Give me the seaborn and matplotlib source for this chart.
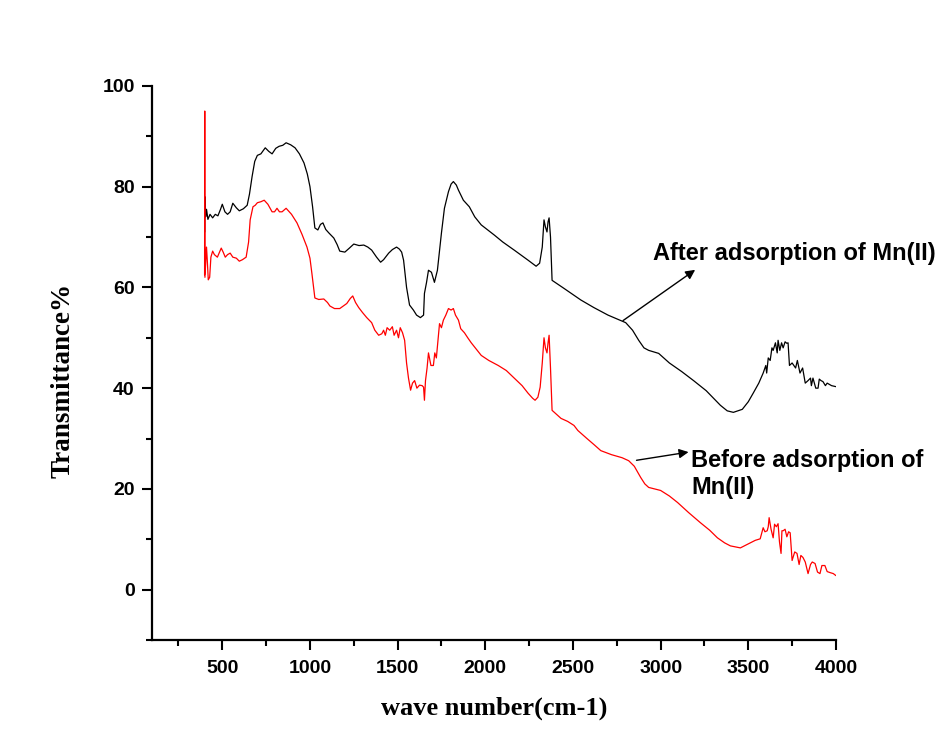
import matplotlib
matplotlib.use("Agg")
import matplotlib.pyplot as plt
import seaborn as sns
import pandas as pd
from matplotlib.ticker import MultipleLocator

# ---- data ----
after_x = [400, 401, 405, 410, 418, 430, 445, 460, 475, 490, 500, 515, 530, 545, 560, 580, 597, 620, 642, 655,
           670, 685, 700, 720, 745, 765, 784, 805, 824, 845, 864, 890, 915, 940, 966, 985, 1000, 1015, 1028, 1045,
           1060, 1074, 1090, 1108, 1136, 1155, 1170, 1199, 1225, 1250, 1280, 1307, 1330, 1352, 1380, 1403, 1420,
           1449, 1470, 1494, 1510, 1523, 1534, 1551, 1568, 1590, 1608, 1630, 1648, 1653, 1665, 1676, 1693, 1710,
           1727, 1750, 1767, 1790, 1805, 1818, 1835, 1847, 1875, 1909, 1940, 1977, 2051, 2100, 2165, 2244, 2290,
           2310, 2325, 2335, 2343, 2352, 2358, 2364, 2372, 2381, 2449, 2545, 2619, 2700, 2801, 2840, 2875, 2905,
           2932, 2989, 3050, 3120, 3188, 3260, 3341, 3380, 3415, 3466, 3500, 3528, 3560, 3585, 3600, 3605, 3614,
           3625, 3635, 3642, 3655, 3665, 3670, 3680, 3690, 3699, 3710, 3720, 3727, 3735, 3750, 3770, 3780, 3795,
           3810, 3825, 3841, 3855, 3860, 3869, 3885, 3898, 3905, 3915, 3926, 3940, 3950, 3975, 4000]
after_y = [71.0, 78.0, 74.0, 75.5, 73.5, 74.5, 73.8, 74.5, 74.2, 75.5, 76.5, 75.0, 74.5, 75.0, 76.7, 75.8, 75.2,
           75.6, 76.3, 78.5, 82.0, 85.0, 86.2, 86.5, 87.7, 87.0, 86.5, 87.6, 88.0, 88.2, 88.7, 88.3, 87.7, 86.5,
           84.7, 82.5, 80.0, 76.0, 71.8, 71.4, 72.5, 72.8, 71.5, 70.8, 69.8, 68.5, 67.2, 67.0, 67.8, 68.6, 68.3,
           68.4, 68.0, 67.4, 66.0, 65.0, 65.5, 66.8, 67.5, 68.0, 67.6, 67.0, 65.4, 60.0, 56.5, 55.5, 54.5, 54.0,
           54.5, 58.8, 61.0, 63.4, 63.0, 61.0, 63.4, 70.8, 75.7, 79.0, 80.5, 81.0, 80.3, 79.3, 77.3, 76.0, 74.0,
           72.4, 70.4, 69.0, 67.4, 65.4, 64.2, 64.8, 68.0, 73.4, 72.0, 71.0, 73.0, 73.8, 70.0, 61.4, 59.8, 57.5,
           56.0, 54.5, 53.0, 51.5, 49.5, 48.0, 47.5, 46.9, 45.0, 43.3, 41.5, 39.5, 36.6, 35.5, 35.2, 35.8, 37.3,
           39.0, 41.0, 43.0, 44.5, 43.0, 46.0, 45.5, 48.0, 47.5, 49.0, 47.0, 49.5, 47.5, 49.0, 48.0, 49.2, 48.9,
           49.0, 44.5, 45.0, 44.0, 45.5, 43.0, 44.0, 41.0, 41.5, 42.0, 40.5, 42.0, 40.0, 40.0, 41.8, 41.5, 41.3,
           40.5, 41.0, 40.5, 40.3]

before_x = [399, 400, 401, 405, 410, 415, 420, 428, 435, 445, 455, 472, 494, 505, 517, 530, 545, 560, 580, 597,
            615, 636, 650, 659, 675, 688, 700, 720, 739, 760, 784, 798, 812, 826, 841, 864, 895, 926, 955, 983,
            1000, 1011, 1028, 1050, 1079, 1100, 1114, 1140, 1170, 1190, 1210, 1230, 1244, 1260, 1278, 1300, 1324,
            1352, 1370, 1392, 1410, 1420, 1430, 1440, 1455, 1470, 1480, 1494, 1505, 1515, 1528, 1540, 1551, 1562,
            1574, 1585, 1597, 1610, 1625, 1640, 1648, 1653, 1659, 1668, 1676, 1690, 1704, 1712, 1721, 1739, 1750,
            1761, 1775, 1790, 1805, 1818, 1830, 1847, 1860, 1881, 1900, 1920, 1977, 2020, 2074, 2120, 2165, 2210,
            2244, 2270, 2284, 2300, 2313, 2325, 2335, 2343, 2352, 2358, 2364, 2372, 2381, 2400, 2432, 2470, 2506,
            2528, 2580, 2620, 2659, 2720, 2780, 2818, 2850, 2886, 2910, 2932, 3000, 3050, 3097, 3160, 3227, 3280,
            3324, 3365, 3398, 3455, 3511, 3540, 3568, 3575, 3585, 3595, 3608, 3614, 3619, 3630, 3642, 3650, 3660,
            3670, 3678, 3687, 3692, 3699, 3710, 3720, 3730, 3739, 3750, 3765, 3778, 3790, 3800, 3812, 3825, 3841,
            3855, 3865, 3881, 3895, 3909, 3920, 3937, 3950, 3966, 3985, 4000]
before_y = [62.5, 95.0, 62.0, 64.5, 68.0, 65.0, 61.5, 62.0, 66.0, 67.2, 66.5, 66.0, 67.8, 67.0, 66.0, 66.5, 66.8,
            66.0, 65.8, 65.2, 65.5, 66.0, 69.0, 73.4, 76.0, 76.3, 76.8, 77.0, 77.3, 76.5, 75.0, 75.0, 75.7, 75.0,
            75.0, 75.7, 74.5, 72.8, 70.5, 68.0, 65.8, 62.8, 57.9, 57.6, 57.7, 57.0, 56.3, 55.8, 55.8, 56.3, 56.8,
            57.8, 58.3, 57.0, 56.0, 55.0, 54.0, 53.0, 51.5, 50.5, 50.8, 51.5, 50.5, 52.0, 51.5, 52.2, 50.5, 51.5,
            50.0, 52.0, 51.0, 49.5, 45.0, 42.0, 39.6, 41.0, 41.5, 40.0, 40.6, 40.5, 40.2, 37.6, 41.5, 44.0, 47.0,
            44.5, 44.5, 47.0, 46.0, 52.8, 52.0, 53.5, 54.5, 55.8, 55.5, 55.8, 54.5, 53.5, 51.8, 51.0, 50.0, 49.0,
            46.5, 45.5, 44.5, 43.5, 42.0, 40.5, 39.0, 38.0, 37.6, 38.2, 40.2, 45.0, 50.0, 48.0, 47.0, 49.0, 50.5,
            44.0, 35.6, 35.0, 34.0, 33.4, 32.6, 31.6, 30.0, 28.8, 27.6, 26.8, 26.2, 25.6, 24.5, 22.3, 21.0, 20.3,
            19.7, 18.6, 17.3, 15.3, 13.3, 11.8, 10.3, 9.3, 8.7, 8.3, 9.3, 9.8, 10.1, 11.0, 12.3, 11.5, 11.7, 12.5,
            14.3, 12.0, 10.3, 13.0, 12.5, 13.1, 9.5, 7.2, 11.7, 11.7, 12.0, 10.5, 11.5, 11.3, 5.8, 7.5, 7.2, 5.0,
            6.8, 6.4, 5.5, 3.2, 5.0, 5.5, 5.2, 3.5, 3.2, 4.8, 4.8, 3.6, 3.4, 3.2, 2.8]

x_ticks = [500, 1000, 1500, 2000, 2500, 3000, 3500, 4000]
y_ticks = [0, 20, 40, 60, 80, 100]
after_label = "After adsorption of Mn(II)"
before_label = "Before adsorption of\nMn(II)"

df_after = pd.DataFrame({"x": after_x, "y": after_y})
df_before = pd.DataFrame({"x": before_x, "y": before_y})

sns.set_theme(style="ticks")
plt.rcParams["font.family"] = ["Liberation Sans", "DejaVu Sans"]
plt.rcParams["text.color"] = "black"
plt.rcParams["axes.labelcolor"] = "black"
plt.rcParams["xtick.color"] = "black"
plt.rcParams["ytick.color"] = "black"

fig = plt.figure(figsize=(9.51, 7.40), dpi=100)
ax = fig.add_axes([0.160, 0.135, 0.719, 0.749])

sns.lineplot(data=df_after, x="x", y="y", ax=ax, color="black", lw=0.9, estimator=None, sort=False)
sns.lineplot(data=df_before, x="x", y="y", ax=ax, color="#ff0000", lw=0.9, estimator=None, sort=False)

ax.set_xlim(100, 4000)
ax.set_ylim(-10, 100)
ax.set_xticks(x_ticks)
ax.set_yticks(y_ticks)
ax.xaxis.set_minor_locator(MultipleLocator(250))
ax.yaxis.set_minor_locator(MultipleLocator(10))
ax.tick_params(which="major", direction="out", length=7.5, width=1.5, color="black",
               labelsize=14, labelcolor="black")
ax.tick_params(axis="x", which="major", pad=7)
ax.tick_params(axis="y", which="major", pad=5)
ax.tick_params(which="minor", direction="out", length=4, width=1.5, color="black")
for lab in ax.get_xticklabels() + ax.get_yticklabels():
    lab.set_fontweight("bold")

for s in ["top", "right"]:
    ax.spines[s].set_visible(False)
for s in ["left", "bottom"]:
    ax.spines[s].set_linewidth(1.6)
    ax.spines[s].set_color("black")

ax.set_xlabel("wave number(cm-1)", fontsize=19, fontweight="bold",
              family=["Liberation Serif", "DejaVu Serif"], labelpad=14)
ax.set_ylabel("Transmittance%", fontsize=19.5, fontweight="bold",
              family=["Liberation Serif", "DejaVu Serif"])
ax.yaxis.set_label_coords(-0.112, 0.469)

ax.annotate("", xy=(3210, 63.8), xytext=(2773, 53.1),
            arrowprops=dict(arrowstyle="-|>", color="black", lw=1.0, mutation_scale=14))
ax.text(2955, 66.8, after_label, fontsize=17, fontweight="bold", ha="left", va="center")

ax.annotate("", xy=(3175, 27.4), xytext=(2847, 25.6),
            arrowprops=dict(arrowstyle="-|>", color="black", lw=1.0, mutation_scale=14))
ax.text(3175, 23.0, before_label, fontsize=17, fontweight="bold", ha="left", va="center",
        linespacing=1.25)

fig.savefig("out.png", dpi=100, facecolor="white")
